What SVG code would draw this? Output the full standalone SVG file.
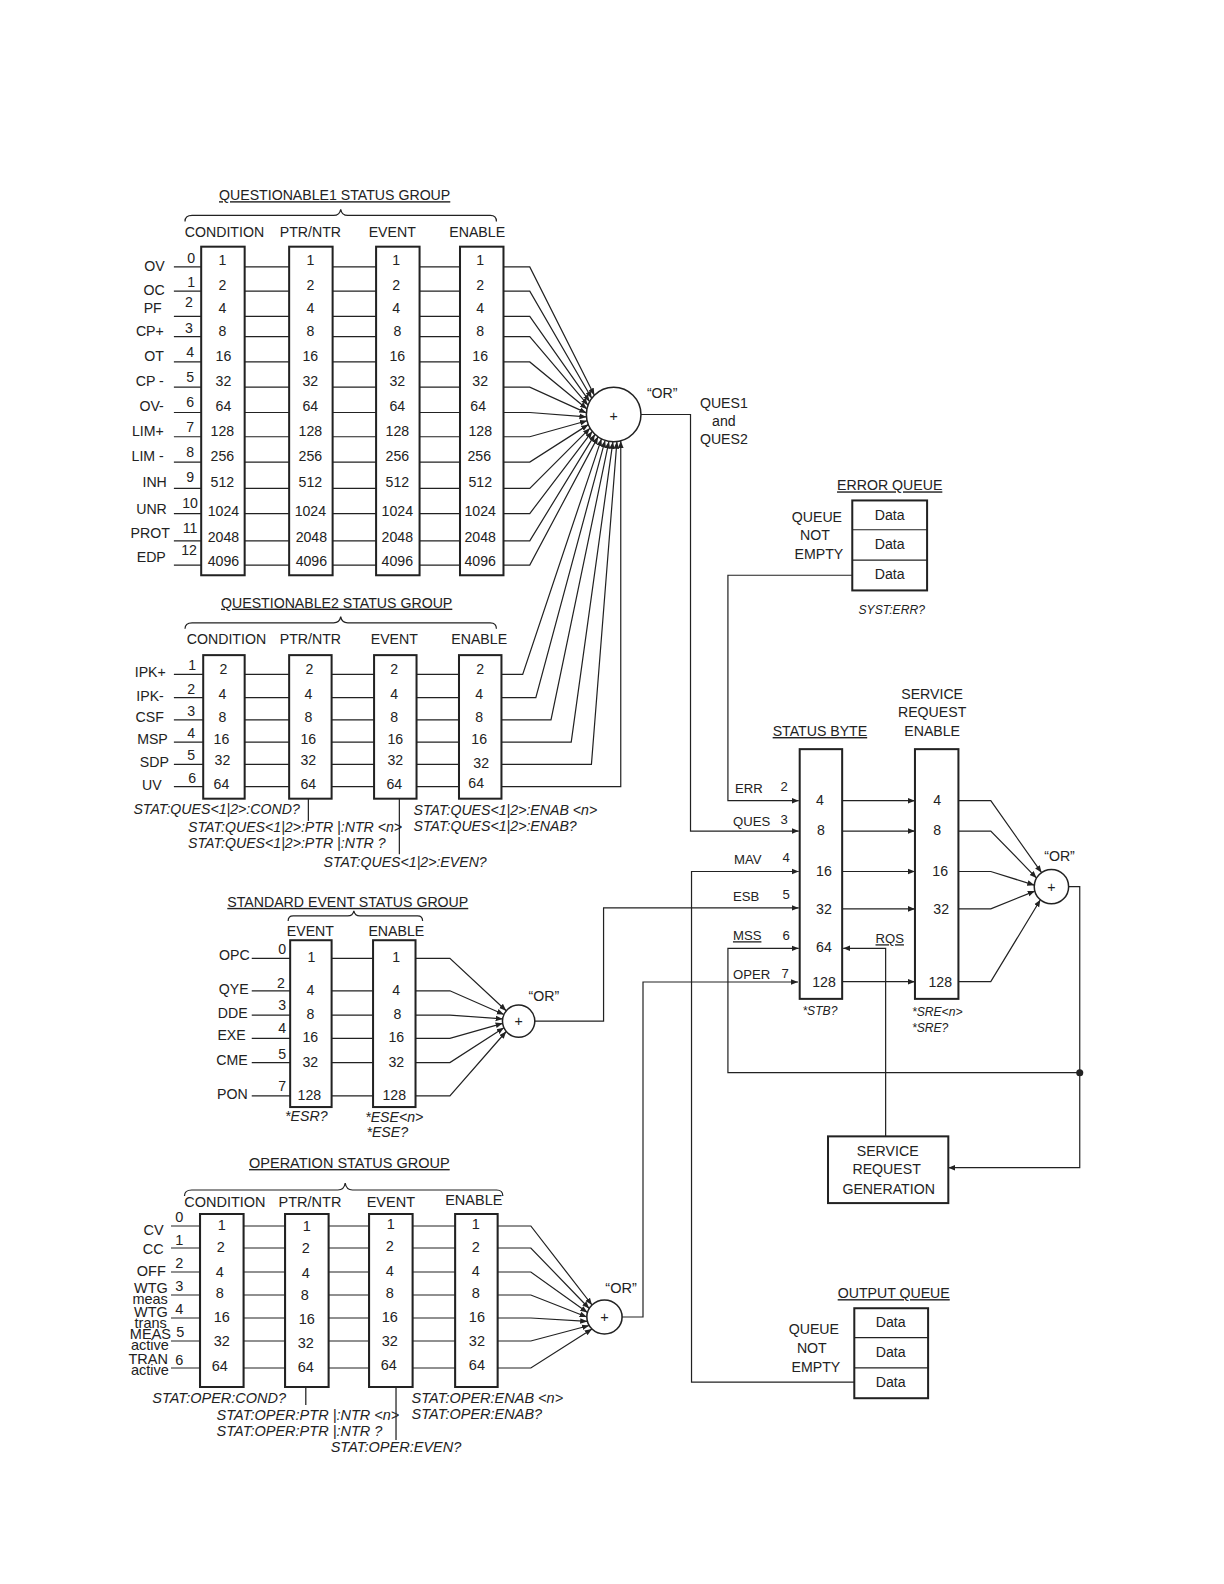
<svg xmlns="http://www.w3.org/2000/svg" width="1224" height="1584" viewBox="0 0 1224 1584">
<style>
text{font-family:"Liberation Sans",Arial,sans-serif;font-size:14px;fill:#222}
.m{text-anchor:middle}.e{text-anchor:end}
.s{font-size:13px}.b{font-size:12px}.t{font-size:10px}
.i{font-style:italic;font-size:12px}
.u{text-decoration:underline}
.bx{fill:#fff;stroke:#222;stroke-width:2}
.ln{fill:none;stroke:#222;stroke-width:1.2}
.ar{fill:none;stroke:#222;stroke-width:1.2;marker-end:url(#a)}
</style>
<defs><marker id="a" viewBox="0 0 10 10" refX="10" refY="5" markerWidth="7" markerHeight="7" orient="auto" markerUnits="userSpaceOnUse"><path d="M0 1L10 5L0 9z" fill="#222"/></marker></defs>
<rect width="1224" height="1584" fill="#fff"/>

<g id="connectors">
<g transform="matrix(1.037 0 0 1 -5.3 0)">
<path class="ln" d="M170 1226H198M240 1226H280M322 1226H361M403 1226H444M170 1248H198M240 1248H280M322 1248H361M403 1248H444M170 1272H198M240 1272H280M322 1272H361M403 1272H444M170 1295H198M240 1295H280M322 1295H361M403 1295H444M170 1318H198M240 1318H280M322 1318H361M403 1318H444M170 1341H198M240 1341H280M322 1341H361M403 1341H444M170 1368H198M240 1368H280M322 1368H361M403 1368H444"/>
<path class="ar" d="M485 1226H517L576 1305"/><path class="ar" d="M485 1248H517L573.3 1308.5"/><path class="ar" d="M485 1272H517L571.6 1312.6"/><path class="ar" d="M485 1295H517L571 1317"/><path class="ar" d="M485 1318H517L571.6 1321.4"/><path class="ar" d="M485 1341H517L573.3 1325.5"/><path class="ar" d="M485 1368H517L576 1329"/>
<path class="ln" d="M300 1387V1405M387 1387V1440"/>
</g>
<path class="ar" d="M622 1317H643V982H798"/>
<g transform="scale(1.011)">
<path class="ln" d="M172 264H199M242 264H286M329 264H372M415 264H455M172 288H199M242 288H286M329 288H372M415 288H455M172 313H199M242 313H286M329 313H372M415 313H455M172 333H199M242 333H286M329 333H372M415 333H455M172 358H199M242 358H286M329 358H372M415 358H455M172 383H199M242 383H286M329 383H372M415 383H455M172 408H199M242 408H286M329 408H372M415 408H455M172 432H199M242 432H286M329 432H372M415 432H455M172 457H199M242 457H286M329 457H372M415 457H455M172 483H199M242 483H286M329 483H372M415 483H455M172 508H199M242 508H286M329 508H372M415 508H455M172 535H199M242 535H286M329 535H372M415 535H455M172 559H199M242 559H286M329 559H372M415 559H455"/>
<path class="ar" d="M498 264H524L587.9 390.9"/><path class="ar" d="M498 288H524L585.3 393.9"/><path class="ar" d="M498 313H524L583.2 397.2"/><path class="ar" d="M498 333H524L581.6 400.8"/><path class="ar" d="M498 358H524L580.6 404.5"/><path class="ar" d="M498 383H524L580 408.4"/><path class="ar" d="M498 408H524L580.1 412.4"/><path class="ar" d="M498 432H524L580.7 416.2"/><path class="ar" d="M498 457H524L581.9 420"/><path class="ar" d="M498 483H524L583.6 423.5"/><path class="ar" d="M498 508H524L585.8 426.7"/><path class="ar" d="M498 535H524L588.5 429.6"/><path class="ar" d="M498 559H524L591.5 432.1"/>
<path class="ln" d="M172 667H201M242 667H286M328 667H370M412 667H454M172 690H201M242 690H286M328 690H370M412 690H454M172 712H201M242 712H286M328 712H370M412 712H454M172 734H201M242 734H286M328 734H370M412 734H454M172 756H201M242 756H286M328 756H370M412 756H454M172 778H201M242 778H286M328 778H370M412 778H454"/>
<path class="ar" d="M496 667H517L594.9 434.1"/><path class="ar" d="M496 690H530L598.5 435.6"/><path class="ar" d="M496 712H545L602.3 436.6"/><path class="ar" d="M496 734H565L606.2 437"/><path class="ar" d="M496 756H585L610.2 436.8"/><path class="ar" d="M496 778H614V436.1"/>
<path class="ar" d="M634 410H683V822H790"/>
<path class="ln" d="M249 948H287M328 948H369M249 980H287M328 980H369M249 1004H287M328 1004H369M249 1027H287M328 1027H369M249 1051H287M328 1051H369M249 1084H287M328 1084H369"/>
<path class="ar" d="M411 948H445L500.7 999.7"/><path class="ar" d="M411 980H445L498.4 1003.5"/><path class="ar" d="M411 1004H445L497.2 1007.8"/><path class="ar" d="M411 1027H445L497.2 1012.2"/><path class="ar" d="M411 1051H445L498.4 1016.5"/><path class="ar" d="M411 1084H445L500.7 1020.3"/>
<path class="ar" d="M529 1010H597V898H790"/>
<path class="ar" d="M843 569H720V792H790"/>
<path class="ar" d="M845 1367H684V862H790"/>
<path class="ar" d="M833 792H905"/><path class="ar" d="M833 822H905"/><path class="ar" d="M833 862H905"/><path class="ar" d="M833 899H905"/><path class="ar" d="M833 971H905"/>
<path class="ar" d="M948 792H980L1030.2 863.1"/><path class="ar" d="M948 822H980L1025.3 868.5"/><path class="ar" d="M948 862H980L1023.1 875.5"/><path class="ar" d="M948 899H980L1023.6 881.4"/><path class="ar" d="M948 971H980L1029.1 890"/>
<path class="ar" d="M1057 877H1068V1155H938"/>
<path class="ar" d="M1068 1061H720V938H790"/>
<circle cx="1068" cy="1061" r="3.5" fill="#222"/>
<path class="ar" d="M876 1124V938H834"/>
<path class="ln" d="M305 790V812M395 790V845"/>
</g>
</g>

<g transform="matrix(1.037 0 0 1 -5.3 0)">
<g id="oper">
<text x="342" y="1168" class="m u">OPERATION  STATUS GROUP</text>
<path class="ln" d="M183 1196Q183 1190 190 1190H331Q337 1190 338 1183Q339 1190 345 1190H484Q490 1190 490 1196"/>
<text x="222" y="1207" class="m">CONDITION</text><text x="304" y="1207" class="m">PTR/NTR</text><text x="382" y="1207" class="m">EVENT</text><text x="462" y="1205" class="m">ENABLE</text>
<rect class="bx" x="198" y="1214" width="42" height="173"/><rect class="bx" x="280" y="1214" width="42" height="173"/><rect class="bx" x="361" y="1214" width="42" height="173"/><rect class="bx" x="444" y="1214" width="41" height="173"/>
<g class="e s"><text x="163" y="1235">CV</text><text x="163" y="1254">CC</text><text x="165" y="1276">OFF</text><text x="167" y="1293">WTG</text><text x="167" y="1317">WTG</text><text x="170" y="1339">MEAS</text><text x="167" y="1364">TRAN</text></g>
<g class="e t"><text x="167" y="1304">meas</text><text x="166" y="1328">trans</text><text x="168" y="1350">active</text><text x="168" y="1375">active</text></g>
<g class="m b"><text x="178" y="1222">0</text><text x="178" y="1245">1</text><text x="178" y="1268">2</text><text x="178" y="1291">3</text><text x="178" y="1314">4</text><text x="179" y="1337">5</text><text x="178" y="1365">6</text></g>
<g class="m"><text x="219" y="1230">1</text><text x="218" y="1252">2</text><text x="217" y="1277">4</text><text x="217" y="1298">8</text><text x="219" y="1322">16</text><text x="219" y="1346">32</text><text x="217" y="1371">64</text>
<text x="301" y="1231">1</text><text x="300" y="1253">2</text><text x="300" y="1278">4</text><text x="299" y="1300">8</text><text x="301" y="1324">16</text><text x="300" y="1348">32</text><text x="300" y="1372">64</text>
<text x="382" y="1229">1</text><text x="381" y="1251">2</text><text x="381" y="1276">4</text><text x="381" y="1298">8</text><text x="381" y="1322">16</text><text x="381" y="1346">32</text><text x="380" y="1370">64</text>
<text x="464" y="1229">1</text><text x="464" y="1252">2</text><text x="464" y="1276">4</text><text x="464" y="1298">8</text><text x="465" y="1322">16</text><text x="465" y="1346">32</text><text x="465" y="1370">64</text></g>
<g class="i"><text x="152" y="1403">STAT:OPER:COND?</text><text x="214" y="1420">STAT:OPER:PTR |:NTR &lt;n&gt;</text><text x="214" y="1436">STAT:OPER:PTR |:NTR ?</text><text x="324" y="1452">STAT:OPER:EVEN?</text><text x="402" y="1403">STAT:OPER:ENAB &lt;n&gt;</text><text x="402" y="1419">STAT:OPER:ENAB?</text></g>
</g>
<g id="or3"><circle cx="588" cy="1317" r="17" fill="#fff" stroke="#222" stroke-width="1.5"/><text x="588" y="1322" class="m">+</text><text x="604" y="1293" class="m">“OR”</text></g>
</g>

<g transform="scale(1.011)">
<g id="q1">
<text x="331" y="198" class="m u">QUESTIONABLE1  STATUS GROUP</text>
<path class="ln" d="M183 219Q183 213 190 213H330Q336 213 337 207Q338 213 344 213H485Q491 213 491 219"/>
<text x="222" y="234" class="m">CONDITION</text><text x="307" y="234" class="m">PTR/NTR</text><text x="388" y="234" class="m">EVENT</text><text x="472" y="234" class="m">ENABLE</text>
<rect class="bx" x="199" y="244" width="43" height="325"/><rect class="bx" x="286" y="244" width="43" height="325"/><rect class="bx" x="372" y="244" width="43" height="325"/><rect class="bx" x="455" y="244" width="43" height="325"/>
<g class="e s"><text x="163" y="268">OV</text><text x="163" y="292">OC</text><text x="160" y="310">PF</text><text x="162" y="332">CP+</text><text x="162" y="357">OT</text><text x="162" y="382">CP -</text><text x="162" y="407">OV-</text><text x="162" y="431">LIM+</text><text x="162" y="456">LIM -</text><text x="165" y="482">INH</text><text x="165" y="508">UNR</text><text x="168" y="532">PROT</text><text x="164" y="556">EDP</text></g>
<g class="m b"><text x="189" y="260">0</text><text x="189" y="284">1</text><text x="187" y="304">2</text><text x="187" y="329">3</text><text x="188" y="353">4</text><text x="188" y="378">5</text><text x="188" y="403">6</text><text x="188" y="427">7</text><text x="188" y="452">8</text><text x="188" y="477">9</text><text x="188" y="502">10</text><text x="188" y="527">11</text><text x="187" y="549">12</text></g>
<g class="m"><text x="220" y="262">1</text><text x="220" y="287">2</text><text x="220" y="310">4</text><text x="220" y="332">8</text><text x="221" y="357">16</text><text x="221" y="382">32</text><text x="221" y="407">64</text><text x="220" y="431">128</text><text x="220" y="456">256</text><text x="220" y="482">512</text><text x="221" y="510">1024</text><text x="221" y="536">2048</text><text x="221" y="560">4096</text></g>
<g class="m"><text x="307" y="262">1</text><text x="307" y="287">2</text><text x="307" y="310">4</text><text x="307" y="332">8</text><text x="307" y="357">16</text><text x="307" y="382">32</text><text x="307" y="407">64</text><text x="307" y="431">128</text><text x="307" y="456">256</text><text x="307" y="482">512</text><text x="307" y="510">1024</text><text x="308" y="536">2048</text><text x="308" y="560">4096</text></g>
<g class="m"><text x="392" y="262">1</text><text x="392" y="287">2</text><text x="392" y="310">4</text><text x="393" y="332">8</text><text x="393" y="357">16</text><text x="393" y="382">32</text><text x="393" y="407">64</text><text x="393" y="431">128</text><text x="393" y="456">256</text><text x="393" y="482">512</text><text x="393" y="510">1024</text><text x="393" y="536">2048</text><text x="393" y="560">4096</text></g>
<g class="m"><text x="475" y="262">1</text><text x="475" y="287">2</text><text x="475" y="310">4</text><text x="475" y="332">8</text><text x="475" y="357">16</text><text x="475" y="382">32</text><text x="473" y="407">64</text><text x="475" y="431">128</text><text x="474" y="456">256</text><text x="475" y="482">512</text><text x="475" y="510">1024</text><text x="475" y="536">2048</text><text x="475" y="560">4096</text></g>
</g>

<g id="or1"><circle cx="607" cy="410" r="27" fill="#fff" stroke="#222" stroke-width="1.5"/><text x="607" y="416" class="m">+</text><text x="655" y="394" class="m">“OR”</text>
<text x="716" y="404" class="m">QUES1</text><text x="716" y="421" class="m">and</text><text x="716" y="439" class="m">QUES2</text></g>

<g id="q2">
<text x="333" y="601" class="m u">QUESTIONABLE2  STATUS GROUP</text>
<path class="ln" d="M183 622Q183 616 190 616H330Q336 616 337 610Q338 616 344 616H485Q491 616 491 622"/>
<text x="224" y="637" class="m">CONDITION</text><text x="307" y="637" class="m">PTR/NTR</text><text x="390" y="637" class="m">EVENT</text><text x="474" y="637" class="m">ENABLE</text>
<rect class="bx" x="201" y="648" width="41" height="142"/><rect class="bx" x="286" y="648" width="42" height="142"/><rect class="bx" x="370" y="648" width="42" height="142"/><rect class="bx" x="454" y="648" width="42" height="142"/>
<g class="e s"><text x="164" y="670">IPK+</text><text x="162" y="693">IPK-</text><text x="162" y="714">CSF</text><text x="166" y="736">MSP</text><text x="167" y="759">SDP</text><text x="160" y="781">UV</text></g>
<g class="m b"><text x="190" y="663">1</text><text x="189" y="686">2</text><text x="189" y="708">3</text><text x="189" y="730">4</text><text x="189" y="752">5</text><text x="190" y="774">6</text></g>
<g class="m"><text x="221" y="667">2</text><text x="220" y="691">4</text><text x="220" y="714">8</text><text x="219" y="736">16</text><text x="220" y="757">32</text><text x="219" y="780">64</text>
<text x="306" y="667">2</text><text x="305" y="691">4</text><text x="305" y="714">8</text><text x="305" y="736">16</text><text x="305" y="757">32</text><text x="305" y="780">64</text>
<text x="390" y="667">2</text><text x="390" y="691">4</text><text x="390" y="714">8</text><text x="391" y="736">16</text><text x="391" y="757">32</text><text x="390" y="780">64</text>
<text x="475" y="667">2</text><text x="474" y="691">4</text><text x="474" y="714">8</text><text x="474" y="736">16</text><text x="476" y="760">32</text><text x="471" y="779">64</text></g>
<g class="i"><text x="132" y="805">STAT:QUES&lt;1|2&gt;:COND?</text><text x="186" y="823">STAT:QUES&lt;1|2&gt;:PTR |:NTR &lt;n&gt;</text><text x="186" y="839">STAT:QUES&lt;1|2&gt;:PTR |:NTR ?</text><text x="320" y="858">STAT:QUES&lt;1|2&gt;:EVEN?</text><text x="409" y="806">STAT:QUES&lt;1|2&gt;:ENAB &lt;n&gt;</text><text x="409" y="822">STAT:QUES&lt;1|2&gt;:ENAB?</text></g>
</g>

<g id="std">
<text x="344" y="897" class="m u">STANDARD EVENT STATUS GROUP</text>
<path class="ln" d="M285 911Q285 906 290 906H344Q349 906 350 901Q351 906 356 906H413Q418 906 418 911"/>
<text x="307" y="926" class="m">EVENT</text><text x="392" y="926" class="m">ENABLE</text>
<rect class="bx" x="287" y="930" width="41" height="165"/><rect class="bx" x="369" y="930" width="42" height="165"/>
<g class="e s"><text x="247" y="950">OPC</text><text x="246" y="983">QYE</text><text x="245" y="1007">DDE</text><text x="243" y="1029">EXE</text><text x="245" y="1053">CME</text><text x="245" y="1087">PON</text></g>
<g class="m b"><text x="279" y="944">0</text><text x="278" y="977">2</text><text x="279" y="999">3</text><text x="279" y="1022">4</text><text x="279" y="1047">5</text><text x="279" y="1079">7</text></g>
<g class="m"><text x="308" y="952">1</text><text x="307" y="984">4</text><text x="307" y="1008">8</text><text x="307" y="1031">16</text><text x="307" y="1055">32</text><text x="306" y="1088">128</text>
<text x="392" y="952">1</text><text x="392" y="984">4</text><text x="393" y="1008">8</text><text x="392" y="1031">16</text><text x="392" y="1055">32</text><text x="390" y="1088">128</text></g>
<g class="i"><text x="303" y="1109" class="m">*ESR?</text><text x="390" y="1110" class="m">*ESE&lt;n&gt;</text><text x="383" y="1125" class="m">*ESE?</text></g>
</g>
<g id="or2"><circle cx="513" cy="1010" r="16" fill="#fff" stroke="#222" stroke-width="1.5"/><text x="513" y="1015" class="m">+</text><text x="538" y="990" class="m">“OR”</text></g>

<g id="errq">
<text x="880" y="485" class="m u">ERROR QUEUE</text>
<rect class="bx" x="843" y="495" width="74" height="89"/><path class="ln" d="M843 524H917M843 554H917" stroke-width="1.6"/>
<text x="880" y="514" class="m">Data</text><text x="880" y="543" class="m">Data</text><text x="880" y="573" class="m">Data</text>
<text x="808" y="516" class="m">QUEUE</text><text x="806" y="534" class="m">NOT</text><text x="810" y="553" class="m">EMPTY</text>
<text x="882" y="607" class="m i">SYST:ERR?</text>
</g>

<g id="stb">
<text x="811" y="728" class="m u">STATUS BYTE</text>
<rect class="bx" x="791" y="741" width="42" height="247"/>
<g class="m"><text x="811" y="796">4</text><text x="812" y="826">8</text><text x="815" y="866">16</text><text x="815" y="904">32</text><text x="815" y="942">64</text><text x="815" y="976">128</text></g>
<text x="727" y="784" class="s">ERR</text><text x="772" y="782" class="s">2</text>
<text x="725" y="817" class="s">QUES</text><text x="772" y="815" class="s">3</text>
<text x="726" y="855" class="s">MAV</text><text x="774" y="853" class="s">4</text>
<text x="725" y="891" class="s">ESB</text><text x="774" y="889" class="s">5</text>
<text x="725" y="930" class="s u">MSS</text><text x="774" y="930" class="s">6</text>
<text x="725" y="968" class="s">OPER</text><text x="773" y="967" class="s">7</text>
<text x="866" y="933" class="s u">RQS</text>
<text x="811" y="1004" class="m i">*STB?</text>
</g>

<g id="sre">
<text x="922" y="691" class="m">SERVICE</text><text x="922" y="709" class="m">REQUEST</text><text x="922" y="728" class="m">ENABLE</text>
<rect class="bx" x="905" y="741" width="43" height="247"/>
<g class="m"><text x="927" y="796">4</text><text x="927" y="826">8</text><text x="930" y="866">16</text><text x="931" y="904">32</text><text x="930" y="976">128</text></g>
<text x="902" y="1005" class="i">*SRE&lt;n&gt;</text><text x="902" y="1021" class="i">*SRE?</text>
</g>
<g id="or4"><circle cx="1040" cy="877" r="17" fill="#fff" stroke="#222" stroke-width="1.5"/><text x="1040" y="882" class="m">+</text><text x="1048" y="852" class="m">“OR”</text></g>

<g id="srg">
<rect class="bx" x="819" y="1124" width="119" height="66" stroke-width="1.6"/>
<text x="878" y="1143" class="m">SERVICE</text><text x="877" y="1161" class="m">REQUEST</text><text x="879" y="1181" class="m">GENERATION</text>
</g>

<g id="outq">
<text x="884" y="1284" class="m u">OUTPUT QUEUE</text>
<rect class="bx" x="845" y="1294" width="73" height="89"/><path class="ln" d="M845 1323H918M845 1353H918" stroke-width="1.6"/>
<text x="881" y="1313" class="m">Data</text><text x="881" y="1342" class="m">Data</text><text x="881" y="1372" class="m">Data</text>
<text x="805" y="1319" class="m">QUEUE</text><text x="803" y="1338" class="m">NOT</text><text x="807" y="1357" class="m">EMPTY</text>
</g>
</g>
</svg>
